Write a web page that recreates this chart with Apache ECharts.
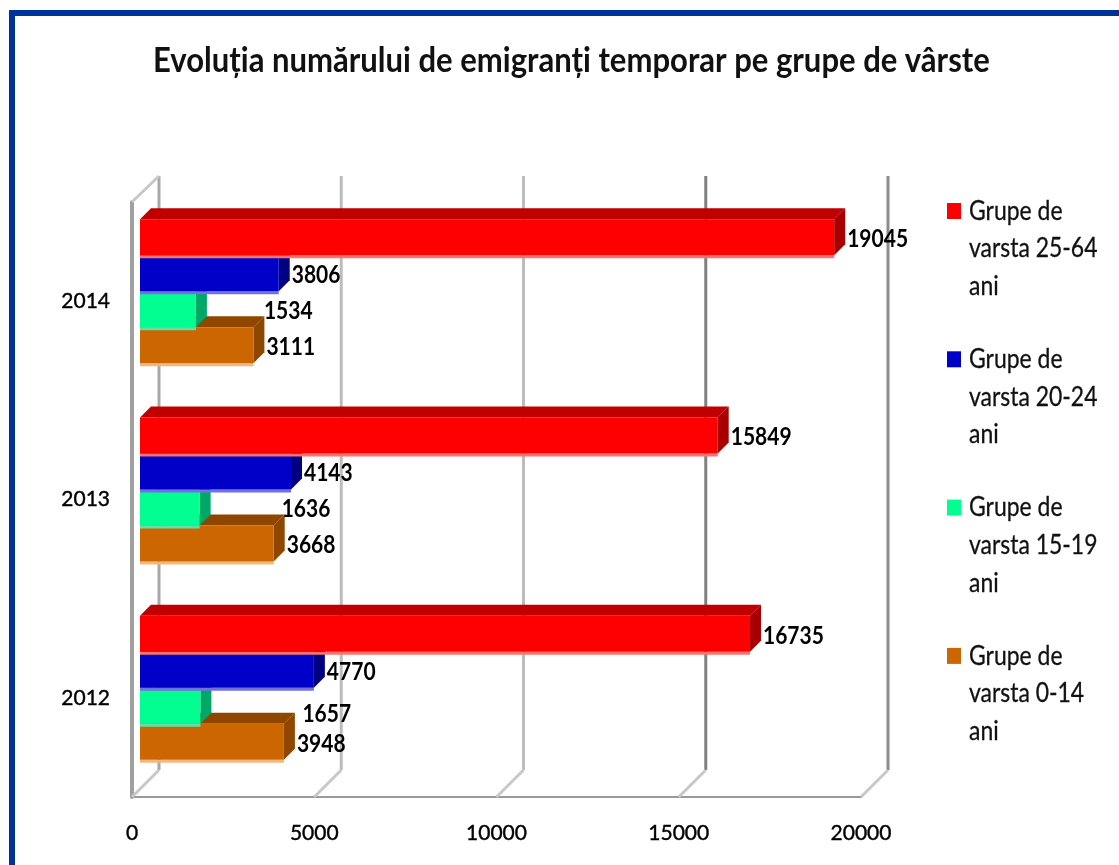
<!DOCTYPE html>
<html><head><meta charset="utf-8">
<style>html,body{margin:0;padding:0;background:#fff;overflow:hidden}#c{width:1119px;height:865px}</style>
<script src="https://cdn.jsdelivr.net/npm/echarts@6/dist/echarts.min.js"></script>
</head><body><div id="c"></div>
<script>
const titleText = 'Evoluția numărului de emigranți temporar pe grupe de vârste';
const years = ['2012', '2013', '2014'];
const xTicks = [0, 5000, 10000, 15000, 20000];
const age2564 = [16735, 15849, 19045];
const age2024 = [4770, 4143, 3806];
const age1519 = [1657, 1636, 1534];
const age0014 = [3948, 3668, 3111];
const name2564 = 'Grupe de varsta 25-64 ani';
const name2024 = 'Grupe de varsta 20-24 ani';
const name1519 = 'Grupe de varsta 15-19 ani';
const name0014 = 'Grupe de varsta 0-14 ani';

const FONT = 'Lato,"Liberation Sans",sans-serif';
const gridColors = ['#a8a8a8', '#bcbcbc', '#bcbcbc', '#808080', '#8c8c8c'];
const WALL = 27, BAR_X = 8, DEPTH = 11, BAR_H = 36, GROUP_DY = -10, NARROW = 0.875;

function barSeries(name, values, slot, colors, labelShift) {
  return {
    type: 'custom', name, silent: true, z: 3,
    data: values.map((v, i) => [v, i]),
    encode: { x: 0, y: 1 },
    renderItem(params, api) {
      const v = api.value(0), i = api.value(1);
      const o = api.coord([0, i]), e = api.coord([v, i]);
      const x0 = o[0] + BAR_X, x1 = e[0] + BAR_X;
      const top = o[1] + GROUP_DY - 2 * BAR_H + slot * BAR_H, bot = top + BAR_H;
      const sh = labelShift[i];
      return { type: 'group', children: [
        { type: 'rect', shape: { x: x0, y: bot, width: x1 - x0, height: 3 }, style: { fill: colors.edge } },
        { type: 'polygon', shape: { points: [[x0, top], [x1, top], [x1 + DEPTH, top - DEPTH], [x0 + DEPTH, top - DEPTH]] }, style: { fill: colors.top } },
        { type: 'polygon', shape: { points: [[x1, top], [x1 + DEPTH, top - DEPTH], [x1 + DEPTH, bot - DEPTH], [x1, bot]] }, style: { fill: colors.side } },
        { type: 'rect', shape: { x: x0, y: top, width: x1 - x0, height: BAR_H }, style: { fill: colors.front } },
        { type: 'text', z2: 100, x: x1 + DEPTH + 2 + sh[0], y: (top + bot) / 2 + 2 + sh[1], scaleX: NARROW,
          style: { x: 0, y: 0, text: String(v), fill: '#000', font: 'bold 24px ' + FONT, textAlign: 'left', textVerticalAlign: 'middle' } }
      ] };
    }
  };
}

const cRed = { front: '#ff0000', top: '#c00000', side: '#a80000', edge: '#ff7070' };
const cBlue = { front: '#0000c8', top: '#000090', side: '#000080', edge: '#7070e0' };
const cGreen = { front: '#00ff90', top: '#00a868', side: '#00a868', edge: '#60e0a8' };
const cOrange = { front: '#cc6600', top: '#8f4700', side: '#8f4700', edge: '#f0b880' };

const legendItems = [[name2564, cRed.front], [name2024, cBlue.front], [name1519, cGreen.front], [name0014, cOrange.front]];
const legendGraphics = [];
legendItems.forEach(([n, col], k) => {
  const y0 = 211 + k * 148.3;
  legendGraphics.push({ type: 'rect', shape: { x: 947, y: y0 - 8, width: 14, height: 16 }, style: { fill: col } });
  const w = n.split(' ');
  const lines = [w[0] + ' ' + w[1], w[2] + ' ' + w[3], w[4]];
  lines.forEach((t, j) => legendGraphics.push({ type: 'text', x: 969, y: y0 + j * 37.6, scaleX: 0.85,
    style: { x: 0, y: 0, text: t, fill: '#111', font: '27px ' + FONT, textAlign: 'left', textVerticalAlign: 'middle', stroke: '#111', lineWidth: 0.3 } }));
});

const chart = echarts.init(document.getElementById('c'), null, { renderer: 'canvas' });
chart.setOption({
  animation: false,
  backgroundColor: '#fff',
  grid: { left: 132, top: 202, width: 729, height: 595, containLabel: false },
  xAxis: { type: 'value', min: 0, max: 20000, interval: 5000, splitLine: { show: false }, axisTick: { show: false },
    axisLine: { show: true, lineStyle: { color: '#999', width: 2 } },
    axisLabel: { margin: 26, color: '#000', fontFamily: FONT, fontSize: 21, textBorderColor: '#000', textBorderWidth: 0.4, formatter: v => String(v) } },
  yAxis: { type: 'category', data: years, axisTick: { show: false },
    axisLine: { show: true, lineStyle: { color: '#a0a0a0', width: 4 } },
    axisLabel: { margin: 22, color: '#000', fontFamily: FONT, fontSize: 21, textBorderColor: '#000', textBorderWidth: 0.4 } },
  graphic: [
    { type: 'polyline', shape: { points: [[12, 900], [12, 13], [1130, 13]] }, style: { stroke: '#003399', lineWidth: 6, fill: null } },
    { type: 'text', x: 153, y: 61, scaleX: 0.913,
      style: { x: 0, y: 0, text: titleText, fill: '#111', font: 'bold 34px ' + FONT, textAlign: 'left', textVerticalAlign: 'middle' } },
    ...legendGraphics
  ],
  series: [
    { type: 'custom', name: 'walls', silent: true, z: 1,
      data: xTicks.map(t => [t, 0]), encode: { x: 0, y: 1 },
      renderItem(params, api) {
        const t = api.value(0), x = api.coord([t, 0])[0];
        const top = params.coordSys.y, bot = top + params.coordSys.height;
        const col = gridColors[params.dataIndex];
        const children = [
          { type: 'line', shape: { x1: x + WALL, y1: top - WALL + 1, x2: x + WALL, y2: bot - WALL }, style: { stroke: col, lineWidth: 3 } },
          { type: 'line', shape: { x1: x, y1: bot, x2: x + WALL, y2: bot - WALL }, style: { stroke: '#c8c8c8', lineWidth: 3 } }
        ];
        if (t === 0) children.push({ type: 'line', shape: { x1: x, y1: top, x2: x + WALL, y2: top - WALL + 1 }, style: { stroke: '#c8c8c8', lineWidth: 3 } });
        return { type: 'group', children };
      } },
    barSeries(name0014, age0014, 3, cOrange, [[0, 0], [0, 0], [0, 0]]),
    barSeries(name1519, age1519, 2, cGreen, [[89, 6], [69, 0], [55, 0]]),
    barSeries(name2024, age2024, 1, cBlue, [[0, 0], [0, 0], [0, 0]]),
    barSeries(name2564, age2564, 0, cRed, [[0, 0], [0, 0], [0, 0]])
  ]
});
</script></body></html>
